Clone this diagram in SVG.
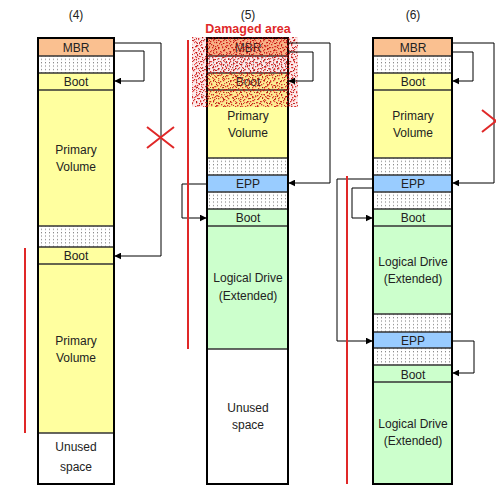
<svg xmlns="http://www.w3.org/2000/svg" width="496" height="485" viewBox="0 0 496 485">
<defs>
<pattern id="dots" width="4" height="3.4" patternUnits="userSpaceOnUse">
<rect width="4" height="3.4" fill="#ffffff"/>
<rect x="1" y="1" width="1" height="1" fill="#707070"/>
</pattern>
<pattern id="dmgA" width="10" height="10" patternUnits="userSpaceOnUse">
<g fill="#cc0000">
<rect x="0" y="1" width="1.3" height="1.3"/><rect x="3" y="0" width="1.3" height="1.3"/><rect x="6" y="2" width="1.3" height="1.3"/><rect x="1" y="4" width="1.3" height="1.3"/><rect x="7" y="5" width="1.3" height="1.3"/><rect x="9" y="3" width="1" height="1.3"/><rect x="2" y="7" width="1.3" height="1.3"/><rect x="5" y="6" width="1.3" height="1.3"/><rect x="8" y="8" width="1.3" height="1.3"/><rect x="4" y="9" width="1.3" height="1"/>
</g>
</pattern>
<pattern id="dmgB" width="13" height="11" patternUnits="userSpaceOnUse">
<g fill="#e03030">
<rect x="1" y="2" width="1.2" height="1.2"/><rect x="5" y="1" width="1.2" height="1.2"/><rect x="10" y="3" width="1.2" height="1.2"/><rect x="3" y="6" width="1.2" height="1.2"/><rect x="8" y="7" width="1.2" height="1.2"/><rect x="12" y="9" width="1" height="1.2"/><rect x="6" y="9" width="1.2" height="1.2"/><rect x="0" y="8" width="1.2" height="1.2"/>
</g>
<g fill="#990000">
<rect x="7" y="4" width="1" height="1"/><rect x="2" y="10" width="1" height="1"/>
</g>
</pattern>
<pattern id="dmgC" width="17" height="7" patternUnits="userSpaceOnUse">
<g fill="#b00000">
<rect x="2" y="1" width="1.5" height="1"/><rect x="9" y="3" width="1" height="1.5"/><rect x="14" y="5" width="1.5" height="1"/><rect x="5" y="5" width="1" height="1"/><rect x="12" y="0" width="1" height="1"/>
</g>
</pattern>
<marker id="arr" viewBox="0 0 10 10" refX="9" refY="5" markerWidth="7" markerHeight="7" markerUnits="userSpaceOnUse" orient="auto">
<path d="M0,0 L10,5 L0,10 z" fill="#000"/>
</marker>
</defs>
<style>
text{font-family:"Liberation Sans",Arial,sans-serif;font-size:12px;fill:#222;text-anchor:middle}
.mbr{fill:#fac090}
.yel{fill:#ffff9f}
.grn{fill:#ccffcc}
.epp{fill:#99ccff}
.wht{fill:#ffffff}
.dot{fill:url(#dots)}
.sep{stroke:#333;stroke-width:1.5}
.frame{fill:none;stroke:#000;stroke-width:2}
.conn path{fill:none;stroke:#000;stroke-width:1}
.red{stroke:#e02828;stroke-width:2;fill:none}
</style>

<text x="76" y="19">(4)</text>
<text x="248" y="19">(5)</text>
<text x="413" y="19">(6)</text>

<g id="col4">
<rect class="mbr" x="38" y="38" width="76" height="18"/>
<rect class="dot" x="38" y="56" width="76" height="17"/>
<rect class="yel" x="38" y="73" width="76" height="17"/>
<rect class="yel" x="38" y="90" width="76" height="136"/>
<rect class="dot" x="38" y="226" width="76" height="21"/>
<rect class="yel" x="38" y="247" width="76" height="17"/>
<rect class="yel" x="38" y="264" width="76" height="169"/>
<rect class="wht" x="38" y="433" width="76" height="51"/>
<g class="sep">
<line x1="38" y1="56" x2="114" y2="56"/><line x1="38" y1="73" x2="114" y2="73"/><line x1="38" y1="90" x2="114" y2="90"/><line x1="38" y1="226" x2="114" y2="226"/><line x1="38" y1="247" x2="114" y2="247"/><line x1="38" y1="264" x2="114" y2="264"/><line x1="38" y1="433" x2="114" y2="433"/>
</g>
<rect class="frame" x="38" y="38" width="76" height="446"/>
<text x="76" y="52">MBR</text>
<text x="76" y="86">Boot</text>
<text x="76" y="154">Primary</text>
<text x="76" y="171">Volume</text>
<text x="76" y="260">Boot</text>
<text x="76" y="345">Primary</text>
<text x="76" y="362">Volume</text>
<text x="76" y="451">Unused</text>
<text x="76" y="471">space</text>
</g>

<g id="col5">
<rect class="mbr" x="207" y="38" width="81" height="18"/>
<rect class="dot" x="207" y="56" width="81" height="17"/>
<rect class="yel" x="207" y="73" width="81" height="17"/>
<rect class="yel" x="207" y="90" width="81" height="68"/>
<rect class="dot" x="207" y="158" width="81" height="17"/>
<rect class="epp" x="207" y="175" width="81" height="17"/>
<rect class="dot" x="207" y="192" width="81" height="17"/>
<rect class="grn" x="207" y="209" width="81" height="17"/>
<rect class="grn" x="207" y="226" width="81" height="123"/>
<rect class="wht" x="207" y="349" width="81" height="135"/>
<g class="sep">
<line x1="207" y1="56" x2="288" y2="56"/><line x1="207" y1="73" x2="288" y2="73"/><line x1="207" y1="90" x2="288" y2="90"/><line x1="207" y1="158" x2="288" y2="158"/><line x1="207" y1="175" x2="288" y2="175"/><line x1="207" y1="192" x2="288" y2="192"/><line x1="207" y1="209" x2="288" y2="209"/><line x1="207" y1="226" x2="288" y2="226"/><line x1="207" y1="349" x2="288" y2="349"/>
</g>
<rect class="frame" x="207" y="38" width="81" height="446"/>
<text x="248" y="52">MBR</text>
<text x="248" y="86">Boot</text>
<text x="248" y="120">Primary</text>
<text x="248" y="137">Volume</text>
<text x="248" y="188">EPP</text>
<text x="248" y="222">Boot</text>
<text x="248" y="282">Logical Drive</text>
<text x="248" y="300">(Extended)</text>
<text x="248" y="412">Unused</text>
<text x="248" y="429">space</text>
</g>

<g id="damaged">
<rect x="192" y="37" width="106" height="70" fill="#e03030" opacity="0.1"/>
<rect x="192" y="37" width="106" height="70" fill="url(#dmgA)" opacity="0.8"/>
<rect x="192" y="37" width="106" height="70" fill="url(#dmgB)" opacity="0.8"/>
<rect x="192" y="37" width="106" height="70" fill="url(#dmgC)" opacity="0.8"/>
<text x="248" y="33" style="fill:#e02828;font-weight:bold;font-size:12.5px">Damaged area</text>
</g>

<g id="col6">
<rect class="mbr" x="373" y="38" width="79" height="18"/>
<rect class="dot" x="373" y="56" width="79" height="17"/>
<rect class="yel" x="373" y="73" width="79" height="17"/>
<rect class="yel" x="373" y="90" width="79" height="68"/>
<rect class="dot" x="373" y="158" width="79" height="17"/>
<rect class="epp" x="373" y="175" width="79" height="17"/>
<rect class="dot" x="373" y="192" width="79" height="17"/>
<rect class="grn" x="373" y="209" width="79" height="17"/>
<rect class="grn" x="373" y="226" width="79" height="88"/>
<rect class="dot" x="373" y="314" width="79" height="18"/>
<rect class="epp" x="373" y="332" width="79" height="16"/>
<rect class="dot" x="373" y="348" width="79" height="17"/>
<rect class="grn" x="373" y="365" width="79" height="17"/>
<rect class="grn" x="373" y="382" width="79" height="102"/>
<g class="sep">
<line x1="373" y1="56" x2="452" y2="56"/><line x1="373" y1="73" x2="452" y2="73"/><line x1="373" y1="90" x2="452" y2="90"/><line x1="373" y1="158" x2="452" y2="158"/><line x1="373" y1="175" x2="452" y2="175"/><line x1="373" y1="192" x2="452" y2="192"/><line x1="373" y1="209" x2="452" y2="209"/><line x1="373" y1="226" x2="452" y2="226"/><line x1="373" y1="314" x2="452" y2="314"/><line x1="373" y1="332" x2="452" y2="332"/><line x1="373" y1="348" x2="452" y2="348"/><line x1="373" y1="365" x2="452" y2="365"/><line x1="373" y1="382" x2="452" y2="382"/>
</g>
<rect class="frame" x="373" y="38" width="79" height="446"/>
<text x="413" y="52">MBR</text>
<text x="413" y="86">Boot</text>
<text x="413" y="120">Primary</text>
<text x="413" y="137">Volume</text>
<text x="413" y="188">EPP</text>
<text x="413" y="222">Boot</text>
<text x="413" y="266">Logical Drive</text>
<text x="413" y="283">(Extended)</text>
<text x="413" y="345">EPP</text>
<text x="413" y="379">Boot</text>
<text x="413" y="428">Logical Drive</text>
<text x="413" y="445">(Extended)</text>
</g>

<g id="connectors" class="conn">
<path d="M114,43 H161 V256 H115" marker-end="url(#arr)"/>
<path d="M114,51 H144 V81 H115" marker-end="url(#arr)"/>
<path d="M288,43 H330 V183 H289" marker-end="url(#arr)"/>
<path d="M288,52 H313 V81 H289" marker-end="url(#arr)"/>
<path d="M207,184 H182 V218 H206" marker-end="url(#arr)"/>
<path d="M452,43 H494 V183 H453" marker-end="url(#arr)"/>
<path d="M452,52 H473 V81 H453" marker-end="url(#arr)"/>
<path d="M373,179 H337 V341 H372" marker-end="url(#arr)"/>
<path d="M373,188 H352 V218 H372" marker-end="url(#arr)"/>
<path d="M452,341 H474 V373 H453" marker-end="url(#arr)"/>
</g>

<g id="marks">
<line class="red" x1="25" y1="248" x2="25" y2="433"/>
<line class="red" x1="188" y1="40" x2="188" y2="349"/>
<line class="red" x1="347" y1="176" x2="347" y2="484"/>
<path class="red" d="M147,127 L174,148 M147,148 L174,127"/>
<path class="red" d="M482,110 L510,132 M482,132 L510,110"/>
</g>
</svg>
